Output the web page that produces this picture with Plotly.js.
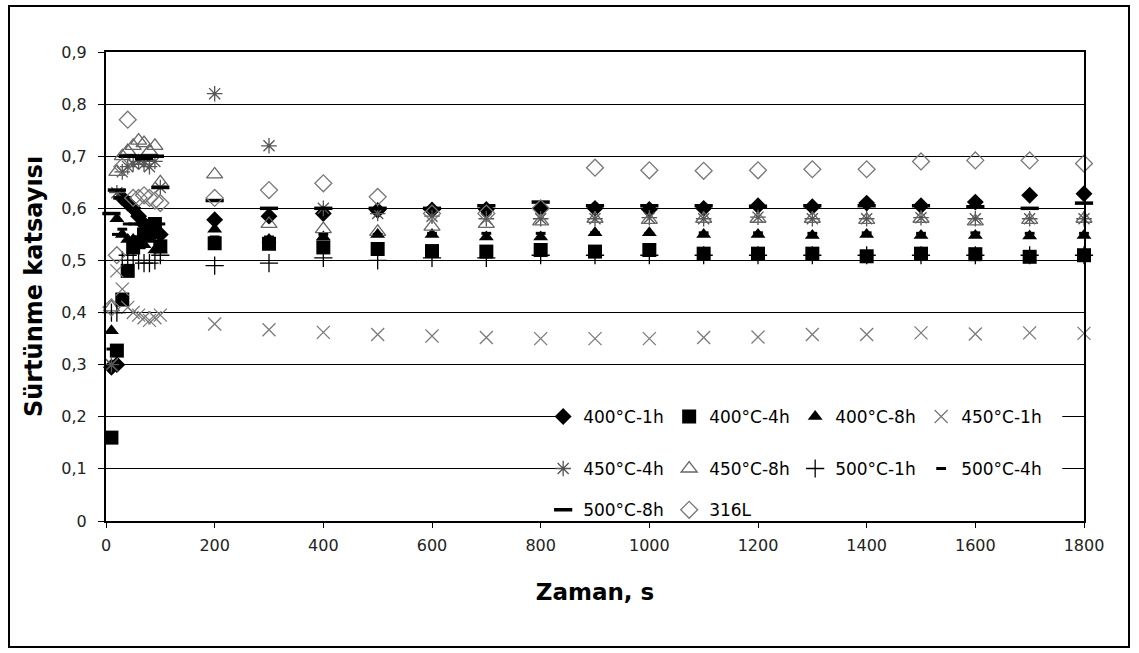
<!DOCTYPE html>
<html><head><meta charset="utf-8">
<script src="https://cdn.plot.ly/plotly-3.0.1.min.js"></script>
<style>
html,body{margin:0;padding:0;background:#fff;}
#wrap{position:relative;width:1139px;height:653px;}
#chart{width:1139px;height:653px;}
#frame{position:absolute;left:8px;top:5px;width:1122px;height:643px;border:2px solid #000;pointer-events:none;box-sizing:border-box;}
</style></head>
<body><div id="wrap"><div id="chart"></div><div id="frame"></div></div>
<script>
const time = [10,20,30,40,50,60,70,80,90,100,200,300,400,500,600,700,800,900,1000,1100,1200,1300,1400,1500,1600,1700,1800];
const s400_1h = [0.295,0.30,0.62,0.61,0.60,0.585,0.57,0.56,0.555,0.55,0.578,0.585,0.59,0.596,0.597,0.598,0.60,0.60,0.598,0.60,0.605,0.603,0.61,0.605,0.612,0.625,0.628];
const s400_4h = [0.16,0.327,0.425,0.48,0.525,0.535,0.55,0.565,0.57,0.527,0.533,0.532,0.525,0.522,0.518,0.517,0.52,0.517,0.52,0.513,0.513,0.513,0.508,0.513,0.512,0.507,0.51];
const s400_8h = [0.365,0.58,0.55,0.54,0.54,0.53,0.53,0.54,0.52,0.52,0.56,0.54,0.545,0.55,0.55,0.545,0.545,0.553,0.553,0.55,0.55,0.548,0.55,0.548,0.548,0.547,0.548];
const s450_1h = [0.30,0.48,0.445,0.41,0.40,0.395,0.39,0.385,0.39,0.395,0.378,0.367,0.362,0.358,0.355,0.352,0.35,0.35,0.35,0.352,0.353,0.358,0.358,0.361,0.359,0.361,0.36];
const s450_4h = [0.30,0.63,0.67,0.68,0.685,0.69,0.685,0.68,0.69,0.64,0.82,0.72,0.60,0.59,0.585,0.58,0.58,0.58,0.582,0.58,0.583,0.58,0.58,0.582,0.58,0.58,0.58];
const s450_8h = [0.41,0.67,0.70,0.71,0.72,0.73,0.725,0.71,0.72,0.65,0.665,0.57,0.56,0.555,0.565,0.57,0.575,0.58,0.578,0.58,0.58,0.58,0.578,0.58,0.575,0.578,0.58];
const s500_1h = [0.40,0.40,0.50,0.51,0.50,0.50,0.495,0.495,0.50,0.51,0.49,0.495,0.505,0.50,0.505,0.505,0.51,0.51,0.51,0.51,0.51,0.51,0.51,0.51,0.51,0.51,0.51];
const s500_4h = [0.33,0.55,0.56,0.57,0.57,0.57,0.575,0.57,0.575,0.57,0.545,0.545,0.55,0.55,0.552,0.552,0.552,0.553,0.552,0.553,0.553,0.552,0.553,0.552,0.553,0.552,0.552];
const s500_8h = [0.59,0.635,0.62,0.70,0.70,0.70,0.695,0.70,0.70,0.64,0.615,0.60,0.60,0.60,0.60,0.605,0.612,0.605,0.605,0.605,0.604,0.605,0.605,0.605,0.603,0.60,0.61];
const s316L = [0.41,0.51,0.68,0.77,0.62,0.62,0.625,0.62,0.615,0.61,0.62,0.635,0.648,0.622,0.59,0.59,0.60,0.678,0.673,0.672,0.673,0.675,0.675,0.69,0.692,0.692,0.686];

const seriesNames = ['400°C-1h','400°C-4h','400°C-8h','450°C-1h','450°C-4h','450°C-8h','500°C-1h','500°C-4h','500°C-8h','316L'];
const seriesData = [s400_1h,s400_4h,s400_8h,s450_1h,s450_4h,s450_8h,s500_1h,s500_4h,s500_8h,s316L];
const yTickVals = [0,0.1,0.2,0.3,0.4,0.5,0.6,0.7,0.8,0.9];
const yTickText = ['0','0,1','0,2','0,3','0,4','0,5','0,6','0,7','0,8','0,9'];
const xTickVals = [0,200,400,600,800,1000,1200,1400,1600,1800];

const styles = [
  {symbol:'diamond', size:13, color:'#000', line:{width:0}},
  {symbol:'square', size:14, color:'#000', line:{width:0}},
  {symbol:'triangle-up', size:13, color:'#000', line:{width:0}},
  {symbol:'x-thin-open', size:13, color:'#7a7a7a', line:{width:1.3, color:'#7a7a7a'}},
  {symbol:'asterisk-open', size:13, color:'#555', line:{width:1.3, color:'#555'}},
  {symbol:'triangle-up-open', size:14, color:'#666', line:{width:1.3, color:'#666'}},
  {symbol:'cross-thin-open', size:13, color:'#000', line:{width:1.3, color:'#000'}},
  {symbol:'line-ew-open', size:7, color:'#000', line:{width:3, color:'#000'}},
  {symbol:'line-ew-open', size:13, color:'#000', line:{width:3.5, color:'#000'}},
  {symbol:'diamond-open', size:13, color:'#777', line:{width:1.3, color:'#777'}}
];
const legendOf = ['legend','legend','legend','legend','legend2','legend2','legend2','legend2','legend3','legend3'];

const traces = seriesNames.map((n,i)=>({
  type:'scatter', mode:'markers', name:n, x:time, y:seriesData[i],
  marker:styles[i], legend:legendOf[i], cliponaxis:false
}));

const fam = '"DejaVu Sans", Arial, sans-serif';
const font = {family:fam, size:16, color:'#000'};
const legendBase = {orientation:'h', xanchor:'left', yanchor:'middle', x:0.447,
  bgcolor:'rgba(0,0,0,0)', borderwidth:0, font:{family:fam, size:17, color:'#000'},
  entrywidth:81, entrywidthmode:'pixels', itemwidth:30};

const layout = {
  width:1139, height:653,
  margin:{l:106, r:55, t:52, b:132},
  paper_bgcolor:'#fff', plot_bgcolor:'#fff',
  font:font,
  showlegend:true,
  xaxis:{range:[0,1800], tickvals:xTickVals, ticks:'outside', ticklen:5, tickcolor:'#000',
    showline:true, linecolor:'#000', linewidth:2, mirror:true, showgrid:false, zeroline:false,
    tickfont:{family:fam, size:16, color:'#222'}, ticklabelstandoff:4,
    title:{text:'Zaman, s', font:{family:fam, size:23, color:'#000', weight:'bold'}, standoff:30}},
  yaxis:{range:[0,0.9], tickvals:yTickVals, ticktext:yTickText, ticks:'outside', ticklen:6, tickcolor:'#000',
    showline:true, linecolor:'#000', linewidth:2, mirror:true, showgrid:true, gridcolor:'#000', gridwidth:1, zeroline:false,
    tickfont:{family:fam, size:16, color:'#222'}, ticklabelstandoff:8,
    title:{text:'Sürtünme katsayısı', font:{family:fam, size:24, color:'#000', weight:'bold'}, standoff:12}},
  legend:Object.assign({}, legendBase, {y:0.222}),
  legend2:Object.assign({}, legendBase, {y:0.111}),
  legend3:Object.assign({}, legendBase, {y:0.023}),
  shapes:[{type:'rect', xref:'x', yref:'y', x0:830, x1:1760, y0:0.004, y1:0.235,
    fillcolor:'#fff', line:{width:0}, layer:'above'}]
};
Plotly.newPlot('chart', traces, layout, {displayModeBar:false, staticPlot:true});
</script></body></html>
